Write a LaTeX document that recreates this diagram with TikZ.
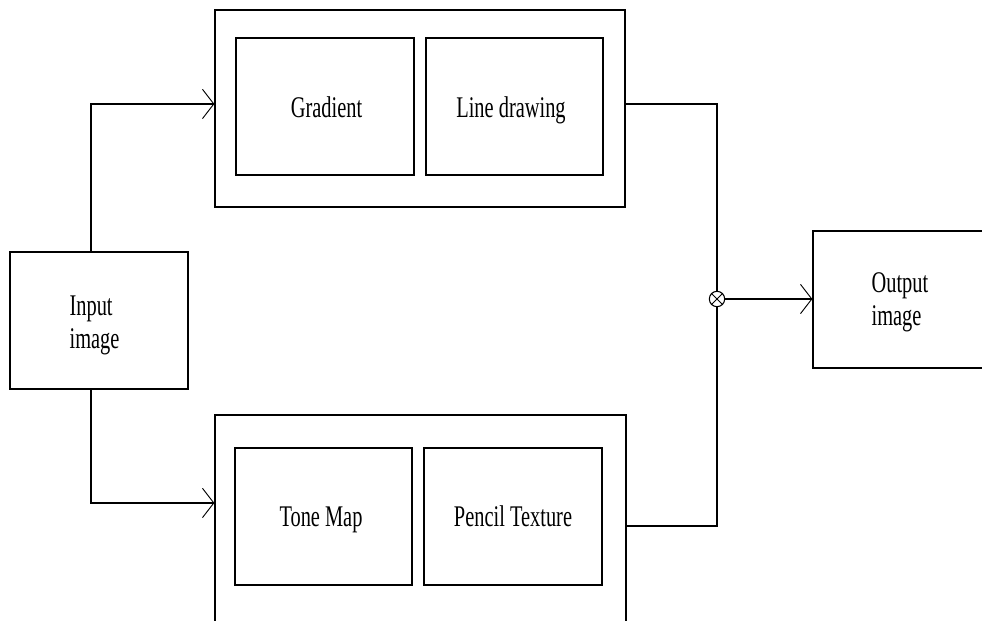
\documentclass[tikz,border=0pt]{standalone}
\usepackage{fontspec}
\setmainfont{Liberation Serif}
\usetikzlibrary{arrows.meta}
% narrow the serif text horizontally
\newcommand\cond[1]{\scalebox{0.68}[1]{#1}}
\begin{document}
\begin{tikzpicture}[x=0.75pt,y=-0.75pt,
  line width=0.9pt,
  box/.style={draw, inner sep=0pt},
  txt/.style={inner sep=0pt, font=\fontsize{22.5}{25}\selectfont},
  arr/.style={-{Straight Barb[length=8.5pt,width=22pt,line width=0.7pt]}},
]
\useasboundingbox (0,0) rectangle (982,621);
\fill[white] (0,0) rectangle (982,621);

% input and output blocks
\node[box, minimum width={178*0.75pt}, minimum height={137*0.75pt}] (in) at (99,320.5) {};
\node[box, minimum width={187*0.75pt}, minimum height={137*0.75pt}] (out) at (906.5,299.5) {};

% upper group
\node[box, minimum width={410*0.75pt}, minimum height={197*0.75pt}] (top) at (420,108.5) {};
\node[box, minimum width={178*0.75pt}, minimum height={137*0.75pt}] (grad) at (325,106.5) {};
\node[box, minimum width={177*0.75pt}, minimum height={137*0.75pt}] (line) at (514.5,106.5) {};

% lower group
\node[box, minimum width={411*0.75pt}, minimum height={245*0.75pt}] (bot) at (420.5,537.5) {};
\node[box, minimum width={177*0.75pt}, minimum height={137*0.75pt}] (tone) at (323.5,516.5) {};
\node[box, minimum width={178*0.75pt}, minimum height={137*0.75pt}] (pencil) at (513,516.5) {};

% labels
\node[txt, anchor=base west] (inlbl) at (69,315) {\cond{\begin{tabular}[t]{@{}l@{}}Input\\image\end{tabular}}};
\node[txt, anchor=base west] (outlbl) at (871,292) {\cond{\begin{tabular}[t]{@{}l@{}}Output\\image\end{tabular}}};
\node[txt, anchor=base] (gradlbl) at (326.5,117) {\cond{Gradient}};
\node[txt, anchor=base] (linelbl) at (511,117) {\cond{Line drawing}};
\node[txt, anchor=base] (tonelbl) at (321,526) {\cond{Tone Map}};
\node[txt, anchor=base] (pencillbl) at (513,526) {\cond{Pencil Texture}};

% combining junction
\node[circle, draw, minimum size=11.5pt, inner sep=0pt, line width=0.8pt] (ox) at (717,299) {};
\draw[line width=0.6pt] (ox.45) -- (ox.225) (ox.135) -- (ox.315);

% connectors
\draw[arr] ([xshift=-6pt]in.north) |- ([yshift=3.4pt]top.west);
\draw[arr] ([xshift=-6pt]in.south) |- ([yshift=25.9pt]bot.west);
\draw ([yshift=3.4pt]top.east) -| (ox.north);
\draw ([yshift=8.6pt]bot.east) -| (ox.south);
\draw[arr] (ox.east) -- (ox.east -| out.west);
\end{tikzpicture}
\end{document}
